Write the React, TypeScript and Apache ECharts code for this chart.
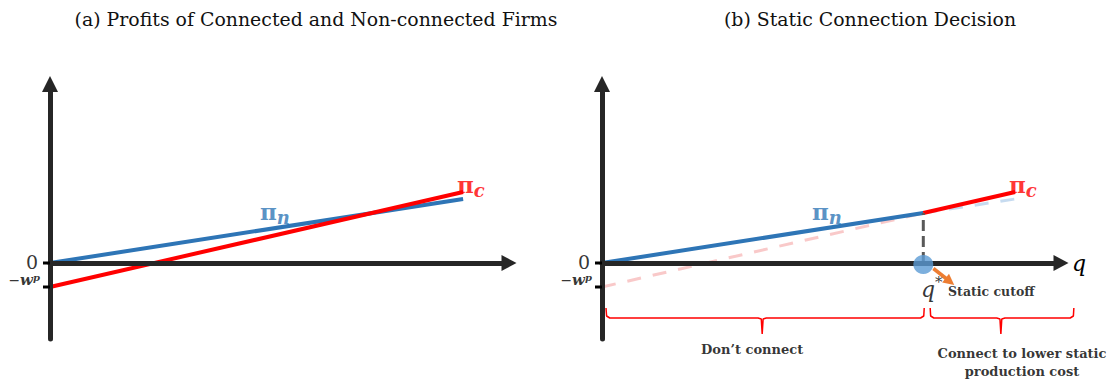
import React, { useEffect, useRef } from 'react';
import * as echarts from 'echarts';

// ---- data (model units) ----
const Q_MIN = 0;
const Q_MAX = 10;
const PROFIT_MIN = -7.6;
const PROFIT_MAX = 17.9;
const yTickValues = [0, -2.4];
const yTickLabels = ['{z|0}', '{m|−}{w|w}{p|p}'];
const yTickLabelOffsets = [[-10, -1], [-10, -7]];
const TICK_LEN_Q = 0.153;

// Panel (a)
const profitNonConnected = [[0, 0], [9, 6.4]];
const profitConnected = [[0, -2.4], [9, 7.1]];

// Panel (b)
const qStar = 7;
const profitAtQStar = 5.0;
const nonConnectedSolid = [[0, 0], [qStar, profitAtQStar]];
const nonConnectedFaded = [[qStar, profitAtQStar], [9, 6.4]];
const connectedSolid = [[qStar, profitAtQStar], [9, 7.1]];
const connectedFaded = [[0, -2.4], [qStar, profitAtQStar]];
const cutoffDrop = [[qStar, 0], [qStar, profitAtQStar]];
const cutoffPoint = [[qStar, -0.15]];
const cutoffArrow = [[7.22, -0.55], [7.58, -1.85]];

const leftBrace = [
  [0.087, -4.5], [0.1, -5.3], [0.17, -5.5], [3.40, -5.5], [3.47, -5.6],
  [3.49, -7.1], [3.51, -5.6], [3.58, -5.5], [6.94, -5.5], [7.01, -5.3], [7.02, -4.5],
];
const rightBrace = [
  [7.15, -4.5], [7.16, -5.3], [7.23, -5.5], [8.60, -5.5], [8.67, -5.6],
  [8.69, -7.1], [8.71, -5.6], [8.78, -5.5], [10.20, -5.5], [10.27, -5.3], [10.28, -4.5],
];

// label anchors
const piNLabelAt = [4.9, 5.2];
const piCLabelAt = [9.17, 7.9];
const qStarLabelAt = [6.95, -2.6];
const cutoffLabelAt = [7.54, -2.8];
const dontConnectAt = [3.27, -8.6];
const connectAt = [9.15, -9.9];

const titles = ['(a) Profits of Connected and Non-connected Firms', '(b) Static Connection Decision'];
const titleCenters = [316, 870];

const BLUE = '#2E75B6';
const RED = '#FF0000';
const AXIS = '#262626';
const SERIF = 'DejaVu Serif';

// layout
const PANEL_LEFT = [50, 602];
const PLOT_TOP = 84;
const PLOT_W = 459;
const PLOT_H = 255;
const PAD_Q = 0.5; // overlay grid margin in q units
const PX_PER_Q = PLOT_W / (Q_MAX - Q_MIN);

function mainAxes(idx: number) {
  const x: any = {
    type: 'value', gridIndex: idx, min: Q_MIN, max: Q_MAX, z: 3,
    axisLine: { show: true, onZero: true, symbol: ['none', 'triangle'], symbolSize: [16, 15], lineStyle: { color: AXIS, width: 5 } },
    axisTick: { show: false }, axisLabel: { show: false }, splitLine: { show: false },
  };
  if (idx === 1) {
    x.name = 'q';
    x.nameLocation = 'end';
    x.nameGap = 11;
    x.nameTextStyle = { fontFamily: SERIF, fontStyle: 'italic', fontSize: 22, color: '#000', verticalAlign: 'middle', padding: [0, 0, 4, 0] };
  }
  const y: any = {
    type: 'value', gridIndex: idx, min: PROFIT_MIN, max: PROFIT_MAX, z: 3,
    axisLine: { show: true, onZero: true, symbol: ['none', 'triangle'], symbolSize: [16, 16], lineStyle: { color: AXIS, width: 5 } },
    axisTick: { show: false }, axisLabel: { show: false }, splitLine: { show: false },
  };
  return { x, y };
}

function overlayAxes(idx: number) {
  const hidden = { show: false };
  return {
    x: { type: 'value', gridIndex: idx, min: Q_MIN - PAD_Q, max: Q_MAX + PAD_Q, show: false, axisLine: hidden, axisTick: hidden, axisLabel: hidden, splitLine: hidden },
    y: { type: 'value', gridIndex: idx, min: PROFIT_MIN, max: PROFIT_MAX, show: false, axisLine: hidden, axisTick: hidden, axisLabel: hidden, splitLine: hidden },
  };
}

function lineSeries(idx: number, data: number[][], color: string, width: number, type: any = 'solid', z = 2) {
  return {
    type: 'line', xAxisIndex: idx, yAxisIndex: idx, data, symbol: 'none', silent: true, clip: false, z,
    lineStyle: { color, width, type, cap: 'butt' },
  };
}

const labelRich = {
  pb: { fontFamily: SERIF, fontWeight: 'bold', fontSize: 23, color: BLUE },
  nb: { fontFamily: SERIF, fontStyle: 'italic', fontWeight: 'bold', fontSize: 18, color: BLUE, padding: [12, 0, 0, 0] },
  pr: { fontFamily: SERIF, fontWeight: 'bold', fontSize: 23, color: RED },
  cr: { fontFamily: SERIF, fontStyle: 'italic', fontWeight: 'bold', fontSize: 18, color: RED, padding: [12, 0, 0, 0] },
  q: { fontFamily: SERIF, fontStyle: 'italic', fontSize: 22, color: '#000' },
  ast: { fontFamily: SERIF, fontSize: 15, color: '#000', padding: [0, 0, 14, 0] },
  z: { fontFamily: SERIF, fontSize: 19, color: '#000', lineHeight: 14, padding: [0, 2, 0, 0] },
  m: { fontFamily: SERIF, fontSize: 14, color: '#000', lineHeight: 14 },
  w: { fontFamily: SERIF, fontStyle: 'italic', fontWeight: 'bold', fontSize: 15, color: '#000', lineHeight: 14 },
  p: { fontFamily: SERIF, fontStyle: 'italic', fontWeight: 'bold', fontSize: 10, color: '#000', lineHeight: 6, padding: [0, 0, 6, 0] },
};

function labelSeries(idx: number, items: any[]) {
  return {
    type: 'scatter', xAxisIndex: idx, yAxisIndex: idx, silent: true, clip: false, z: 6,
    symbolSize: 1, itemStyle: { color: 'rgba(0,0,0,0)' },
    label: { show: true, position: 'inside', rich: labelRich, color: '#000' },
    data: items.map((it) => ({
      value: it.at,
      label: { formatter: it.text, align: it.align || 'center', verticalAlign: 'middle', offset: it.offset || [0, 0], ...(it.style || {}) },
    })),
  };
}

const noteStyle = { fontFamily: SERIF, fontWeight: 'bold', fontSize: 13, color: '#000', lineHeight: 18 };

function axisDecor(idx: number) {
  // tick marks and tick labels on the profit axis
  return [
    ...yTickValues.map((v) => lineSeries(idx, [[-TICK_LEN_Q, v], [0, v]], '#000', 3, 'solid', 4)),
    labelSeries(idx, yTickValues.map((v, i) => ({ at: [0, v], text: yTickLabels[i], align: 'right', offset: yTickLabelOffsets[i] }))),
  ];
}

export default function App() {
  const ref = useRef<HTMLDivElement>(null);
  useEffect(() => {
    document.body.style.margin = '0';
    const chart = echarts.init(ref.current!, null, { renderer: 'svg' });
    const a = mainAxes(0);
    const b = mainAxes(1);
    const oa = overlayAxes(2);
    const ob = overlayAxes(3);
    const overlayGrid = (left: number) => ({ left: left - PAD_Q * PX_PER_Q, top: PLOT_TOP, width: PLOT_W + 2 * PAD_Q * PX_PER_Q, height: PLOT_H });
    chart.setOption({
      animation: false,
      backgroundColor: '#fff',
      grid: [
        { left: PANEL_LEFT[0], top: PLOT_TOP, width: PLOT_W, height: PLOT_H },
        { left: PANEL_LEFT[1], top: PLOT_TOP, width: PLOT_W, height: PLOT_H },
        overlayGrid(PANEL_LEFT[0]),
        overlayGrid(PANEL_LEFT[1]),
      ],
      xAxis: [a.x, b.x, oa.x, ob.x],
      yAxis: [a.y, b.y, oa.y, ob.y],
      graphic: titles.map((t, i) => ({
        type: 'text', x: titleCenters[i], y: 19, silent: true,
        style: { text: t, fontFamily: SERIF, fontSize: 18.9, fill: '#111', align: 'center', verticalAlign: 'middle', textAlign: 'center', textVerticalAlign: 'middle' },
      })),
      series: [
        // panel a
        lineSeries(0, profitNonConnected, BLUE, 4),
        lineSeries(0, profitConnected, RED, 4),
        ...axisDecor(2),
        labelSeries(2, [
          { at: piNLabelAt, text: '{pb|π}{nb|n}' },
          { at: piCLabelAt, text: '{pr|π}{cr|c}' },
        ]),
        // panel b
        lineSeries(1, connectedFaded, 'rgba(245,165,165,0.6)', 3, [14, 12]),
        lineSeries(1, nonConnectedFaded, 'rgba(160,195,230,0.6)', 3, [14, 12]),
        lineSeries(1, nonConnectedSolid, BLUE, 4),
        lineSeries(1, connectedSolid, RED, 4),
        lineSeries(1, cutoffDrop, '#595959', 3, [11, 5]),
        lineSeries(3, leftBrace, RED, 1.5),
        lineSeries(3, rightBrace, RED, 1.5),
        {
          type: 'scatter', xAxisIndex: 1, yAxisIndex: 1, silent: true, clip: false, z: 5,
          data: cutoffPoint, symbol: 'circle', symbolSize: [20, 19], itemStyle: { color: '#5B9BD5' },
        },
        {
          type: 'scatter', xAxisIndex: 3, yAxisIndex: 3, silent: true, clip: false, z: 7,
          data: [], symbolSize: 0,
          markLine: {
            silent: true, symbol: ['none', 'triangle'], symbolSize: [11, 11], label: { show: false },
            lineStyle: { color: '#ED7D31', width: 3.5, type: 'solid' },
            data: [[{ coord: cutoffArrow[0] }, { coord: cutoffArrow[1] }]],
          },
        },
        ...axisDecor(3),
        labelSeries(3, [
          { at: piNLabelAt, text: '{pb|π}{nb|n}' },
          { at: piCLabelAt, text: '{pr|π}{cr|c}' },
          { at: qStarLabelAt, text: '{q|q}{ast|*}', align: 'left' },
          { at: cutoffLabelAt, text: 'Static cutoff', align: 'left', style: { ...noteStyle, fontSize: 12.5 } },
          { at: dontConnectAt, text: 'Don’t connect', style: noteStyle },
          { at: connectAt, text: 'Connect to lower static\nproduction cost', style: noteStyle },
        ]),
      ],
    });
    return () => chart.dispose();
  }, []);
  return <div ref={ref} style={{ width: 1109, height: 383, position: 'absolute', left: 0, top: 0 }} />;
}
